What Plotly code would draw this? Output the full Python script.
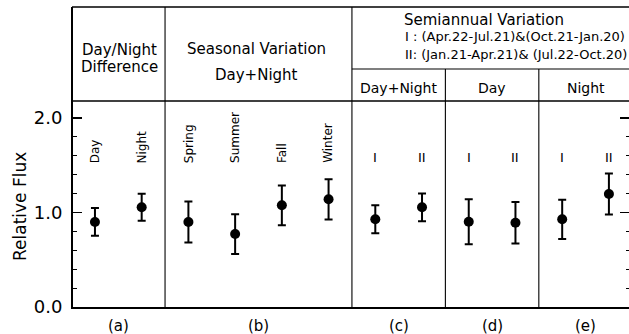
import plotly.graph_objects as go

# ---- data ----
point_labels = ["Day", "Night", "Spring", "Summer", "Fall", "Winter",
                "I", "II", "I", "II", "I", "II"]
rotated_label = [True, True, True, True, True, True,
                 False, False, False, False, False, False]
flux = [0.90, 1.055, 0.90, 0.772, 1.076, 1.14, 0.928, 1.055, 0.903, 0.892, 0.928, 1.196]
flux_err = [0.147, 0.143, 0.217, 0.21, 0.21, 0.213, 0.148, 0.147, 0.238, 0.219, 0.208, 0.217]
group_sizes = [2, 4, 2, 2, 2]
group_tags = ["(a)", "(b)", "(c)", "(d)", "(e)"]
y_ticks = [0.0, 1.0, 2.0]

FONT = "DejaVu Sans"
W, H = 629, 334
ML, MR, MT, MB = 73, 0, 101, 27
XMIN, XMAX = -0.47, 11.43
YMAX = 2.18

xs = list(range(len(flux)))

fig = go.Figure()
fig.add_trace(go.Scatter(
    x=xs, y=flux, mode="markers",
    marker=dict(color="black", size=10),
    error_y=dict(type="data", array=flux_err, visible=True,
                 color="black", thickness=2, width=4),
    showlegend=False, cliponaxis=False, hoverinfo="skip"))
# dummy trace for right axis
fig.add_trace(go.Scatter(x=[None], y=[None], yaxis="y2", showlegend=False))

pw = W - ML - MR
ph = H - MT - MB


def px_x(p):
    return (p - ML) / pw


def px_y(p):
    return (H - MB - p) / ph


def dx(v):
    return (v - XMIN) / (XMAX - XMIN)


shapes = []


def line(x0, y0, x1, y1, w=1.3):
    shapes.append(dict(type="line", xref="paper", yref="paper",
                       x0=x0, y0=y0, x1=x1, y1=y1,
                       line=dict(color="black", width=w)))


# group boundaries
bounds = []
acc = 0
for s in group_sizes:
    acc += s
    bounds.append(acc - 0.5)
bounds = bounds[:-1]
top_y = px_y(7)
sub_y = px_y(69)

# header frame
line(px_x(72), top_y, 1.0, top_y, 1.6)
line(px_x(72), top_y, px_x(72), 0, 2)
line(px_x(72), 1.0, 1.0, 1.0, 1.3)
# dividers
for i, b in enumerate(bounds):
    yt = top_y if i < 2 else sub_y
    line(dx(b), 0, dx(b), yt, 1.1)
line(dx(bounds[1]), sub_y, 1.0, sub_y, 1.1)

ann = []


def txt(t, x, y, xa="center", size=15):
    ann.append(dict(text=t, x=x, y=y, xref="paper", yref="paper",
                    xanchor=xa, yanchor="middle", showarrow=False,
                    font=dict(family=FONT, size=size, color="black")))


txt("Day/Night", px_x(119), px_y(50))
txt("Difference", px_x(119), px_y(67))
txt("Seasonal Variation", px_x(256), px_y(49))
txt("Day+Night", px_x(256), px_y(75))
txt("Semiannual Variation", px_x(484), px_y(20))
txt("I : (Apr.22-Jul.21)&(Oct.21-Jan.20)", px_x(403), px_y(37), "left", 13)
txt("II: (Jan.21-Apr.21)& (Jul.22-Oct.20)", px_x(403), px_y(54), "left", 13)
sub_titles = ["Day+Night", "Day", "Night"]
edges = [bounds[1], bounds[2], bounds[3], 11.5]
for i, t in enumerate(sub_titles):
    cx = (edges[i] + edges[i + 1]) / 2
    txt(t, dx(cx), px_y(88), size=14)

# point labels
for x, lab, rot in zip(xs, point_labels, rotated_label):
    if rot:
        ann.append(dict(text=lab, x=x, y=1.5, xref="x", yref="y",
                        textangle=-90, xanchor="center", yanchor="bottom",
                        showarrow=False,
                        font=dict(family=FONT, size=12, color="black")))
    else:
        ann.append(dict(text=lab, x=x, y=1.58, xref="x", yref="y",
                        xanchor="center", yanchor="middle", showarrow=False,
                        font=dict(family=FONT, size=13, color="black")))

# group tags below
gb = [-0.5] + bounds + [11.5]
for i, tag in enumerate(group_tags):
    cx = (gb[i] + gb[i + 1]) / 2
    ann.append(dict(text=tag, x=dx(cx), y=px_y(326), xref="paper", yref="paper",
                    xanchor="center", yanchor="middle", showarrow=False,
                    font=dict(family=FONT, size=15, color="black")))

ann.append(dict(text="Relative Flux", x=px_x(20), y=px_y(207), xref="paper",
                yref="paper", textangle=-90, xanchor="center", yanchor="middle",
                showarrow=False, font=dict(family=FONT, size=17, color="black")))

fig.update_layout(
    width=W, height=H,
    margin=dict(l=ML, r=MR, t=MT, b=MB, pad=0),
    paper_bgcolor="white", plot_bgcolor="white",
    shapes=shapes, annotations=ann, hovermode=False,
    xaxis=dict(range=[XMIN, XMAX], showgrid=False, zeroline=False,
               showticklabels=False, ticks="", showline=True,
               linecolor="black", linewidth=2, automargin=False),
    yaxis=dict(range=[0, YMAX], tickvals=y_ticks, tickformat=".1f",
               ticks="inside", ticklen=9, tickwidth=1.3, tickcolor="black",
               minor=dict(dtick=0.2, ticks="inside", ticklen=4,
                          tickcolor="black", tickwidth=1),
               showgrid=False, zeroline=False, showline=True,
               linecolor="black", linewidth=2, automargin=False,
               ticklabelstandoff=5,
               tickfont=dict(family=FONT, size=18, color="black")),
    yaxis2=dict(range=[0, YMAX], overlaying="y", side="right",
                tickvals=y_ticks, ticks="inside", ticklen=9, tickwidth=1.3,
                tickcolor="black", showticklabels=False,
                minor=dict(dtick=0.2, ticks="inside", ticklen=3,
                           tickcolor="black", tickwidth=1),
                showgrid=False, zeroline=False, showline=False,
                automargin=False),
)

fig.write_html("out.html",
               config={"displayModeBar": False, "staticPlot": True},
               post_script="document.body.style.margin='0';"
                           "document.body.style.overflow='hidden';")
